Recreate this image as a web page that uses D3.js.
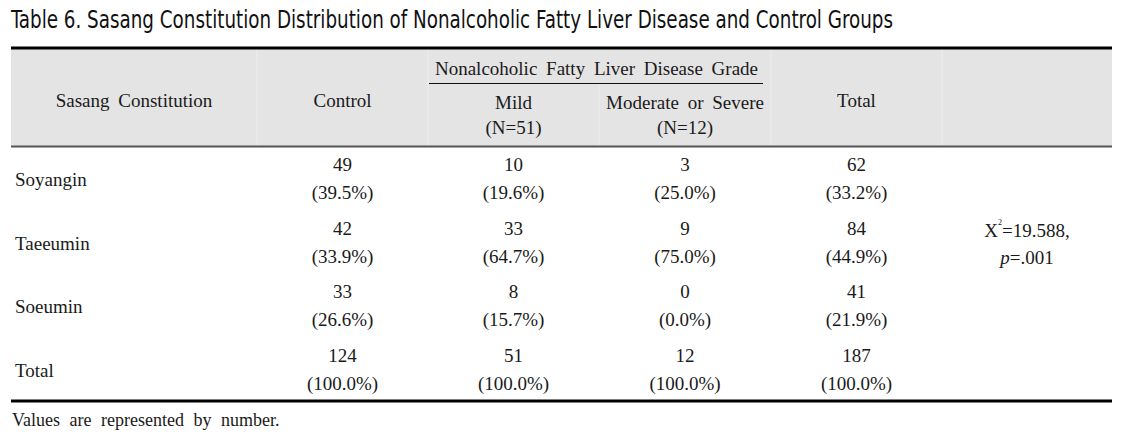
<!DOCTYPE html>
<html><head><meta charset="utf-8">
<script src="https://cdn.jsdelivr.net/npm/d3@7"></script>
<style>
html,body{margin:0;padding:0;background:#fff;}
svg{display:block;}
.serif{font-family:"Liberation Serif","Times New Roman",serif;fill:#1a1a1a;}
</style></head>
<body>
<svg id="chart" width="1132" height="438"></svg>
<script>
const title = "Table 6. Sasang Constitution Distribution of Nonalcoholic Fatty Liver Disease and Control Groups";
const constitutions = ["Soyangin", "Taeeumin", "Soeumin", "Total"];
const groups = ["Control", "Mild", "Moderate or Severe", "Total"];
const groupN = [null, "(N=51)", "(N=12)", null];
const spanHeader = "Nonalcoholic Fatty Liver Disease Grade";
const controlCounts = [49, 42, 33, 124];
const mildCounts = [10, 33, 8, 51];
const severeCounts = [3, 9, 0, 12];
const totalCounts = [62, 84, 41, 187];
const controlPct = ["39.5", "33.9", "26.6", "100.0"];
const mildPct = ["19.6", "64.7", "15.7", "100.0"];
const severePct = ["25.0", "75.0", "0.0", "100.0"];
const totalPct = ["33.2", "44.9", "21.9", "100.0"];
const chiSquare = "19.588";
const pValue = ".001";
const footnote = "Values are represented by number.";

const counts = [controlCounts, mildCounts, severeCounts, totalCounts];
const pcts = [controlPct, mildPct, severePct, totalPct];

const svg = d3.select("#chart");
const colKeys = ["label", "c0", "c1", "c2", "c3", "stat"];
const colEdges = [11, 257, 428, 599, 771, 942, 1112];
const x = d3.scaleOrdinal().domain(colKeys).range(colEdges.slice(0, -1));
const xw = k => colEdges[colKeys.indexOf(k) + 1] - x(k);
const xc = k => x(k) + xw(k) / 2;

const headTop = 48, headBottom = 147, bodyBottom = 401;
const y = d3.scaleBand().domain(constitutions).range([headBottom, bodyBottom]);

// title
svg.append("text")
  .attr("x", 11).attr("y", 28)
  .attr("font-family", "'DejaVu Sans Condensed','Noto Sans',sans-serif")
  .attr("font-size", 24).attr("fill", "#111")
  .attr("textLength", 882).attr("lengthAdjust", "spacingAndGlyphs")
  .text(title);

// header background
svg.append("rect").attr("x", colEdges[0]).attr("y", headTop)
  .attr("width", colEdges[6] - colEdges[0]).attr("height", headBottom - headTop)
  .attr("fill", "#e4e4e4");
// faint separators in header
svg.selectAll("line.sep").data(colEdges.slice(1, -1)).enter().append("line")
  .attr("class", "sep").attr("x1", d => d).attr("x2", d => d)
  .attr("y1", headTop).attr("y2", headBottom)
  .attr("stroke", "#ededed").attr("stroke-width", 1);
svg.selectAll("line.sep").filter(d => d === 599).attr("y1", 84);

// top rule
svg.append("rect").attr("x", colEdges[0]).attr("y", 46.5).attr("width", colEdges[6] - colEdges[0]).attr("height", 3).attr("fill", "#000");
// header bottom rule
svg.append("rect").attr("x", colEdges[0]).attr("y", 145.5).attr("width", colEdges[6] - colEdges[0]).attr("height", 2).attr("fill", "#555");
// bottom rule
svg.append("rect").attr("x", colEdges[0]).attr("y", 399.5).attr("width", colEdges[6] - colEdges[0]).attr("height", 3).attr("fill", "#000");
// spanning rule
svg.append("line").attr("x1", 429).attr("x2", 763).attr("y1", 83.5).attr("y2", 83.5)
  .attr("stroke", "#111").attr("stroke-width", 1);

const T = (sel) => sel.attr("class", "serif").attr("font-size", 19).attr("dominant-baseline", "central").attr("word-spacing", 4);

// header texts
T(svg.append("text")).attr("x", xc("label")).attr("y", 100).attr("text-anchor", "middle").text("Sasang Constitution");
T(svg.append("text")).attr("x", (x("c1") + 763) / 2 + 1).attr("y", 68).attr("text-anchor", "middle").text(spanHeader);
const hcols = ["c0", "c1", "c2", "c3"];
groups.forEach((g, i) => {
  const k = hcols[i];
  if (groupN[i]) {
    T(svg.append("text")).attr("x", xc(k)).attr("y", 102).attr("text-anchor", "middle").text(g);
    T(svg.append("text")).attr("x", xc(k)).attr("y", 127).attr("text-anchor", "middle").text(groupN[i]);
  } else {
    T(svg.append("text")).attr("x", xc(k)).attr("y", 100).attr("text-anchor", "middle").text(g);
  }
});

// body
const rows = svg.selectAll("g.row").data(constitutions).enter().append("g").attr("class", "row")
  .attr("transform", d => `translate(0,${y(d) + y.bandwidth() / 2})`);
rows.each(function (c, ri) {
  const g = d3.select(this);
  T(g.append("text")).attr("x", 15).attr("y", 1).text(c);
  hcols.forEach((k, ci) => {
    T(g.append("text")).attr("x", xc(k)).attr("y", -14).attr("text-anchor", "middle").text(counts[ci][ri]);
    T(g.append("text")).attr("x", xc(k)).attr("y", 14).attr("text-anchor", "middle").text(`(${pcts[ci][ri]}%)`);
  });
});

// statistic
const statY = y("Taeeumin") + y.bandwidth() / 2;
const s1 = T(svg.append("text")).attr("x", xc("stat")).attr("y", statY - 12).attr("text-anchor", "middle");
s1.append("tspan").text("X");
s1.append("tspan").attr("font-size", 8).attr("dy", -8).text("2");
s1.append("tspan").attr("dy", 8).text("=" + chiSquare + ",");
const s2 = T(svg.append("text")).attr("x", xc("stat")).attr("y", statY + 15).attr("text-anchor", "middle");
s2.append("tspan").attr("font-style", "italic").text("p");
s2.append("tspan").text("=" + pValue);

// footnote
T(svg.append("text")).attr("x", 12).attr("y", 420).attr("font-size", 18).attr("word-spacing", 5).text(footnote);
</script>
</body></html>
